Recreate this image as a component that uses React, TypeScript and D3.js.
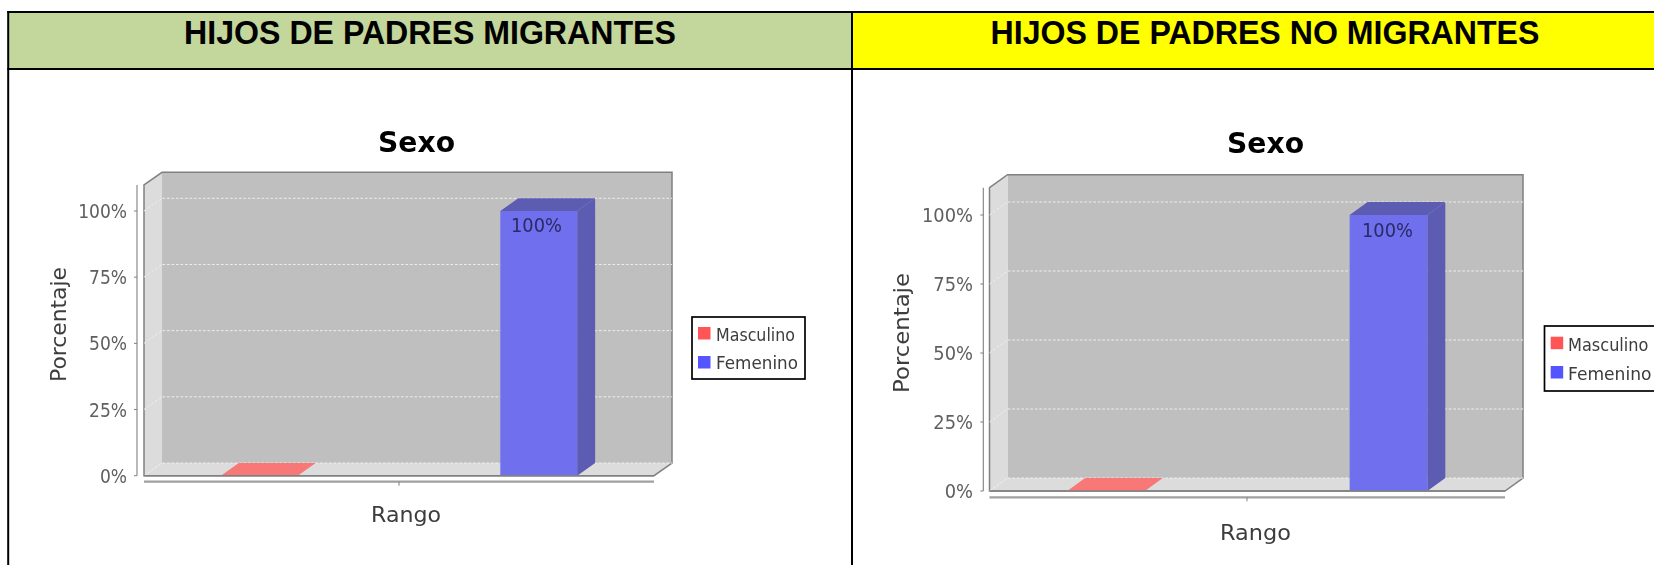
import React from "react";
import * as d3 from "d3";

const categories = ["Masculino", "Femenino"];
const seriesValues = [0, 100];
const barLabels = ["", "100%"];
const tickValues = [0, 25, 50, 75, 100];
const seriesFront = ["#f87878", "#7070ee"];
const seriesSide = ["#c06060", "#5b5bb3"];
const legendSwatches = ["#ff5555", "#5555ff"];
const headers = ["HIJOS DE PADRES MIGRANTES", "HIJOS DE PADRES NO MIGRANTES"];
const headerColors = ["#c3d69b", "#ffff00"];

type Panel = {
  x0: number; x1: number; y0: number; y100: number; yTop: number; dx: number; dy: number;
  axisX: number; axisY: number; tickLabelX: number; xTick: number;
  title: [number, number, number]; rango: [number, number, number]; porc: [number, number, number];
  legend: [number, number, number, number]; swatchX: number; swatchY: number[]; legendTextX: number; legendBase: number[]; legendW: number[];
  lblCx: number; lblBase: number; lblW: number; tickSx: number;
};

const panels: Panel[] = [
  {
    x0: 144, x1: 654, y0: 475.7, y100: 211, yTop: 185, dx: 18, dy: 12.7, axisX: 137, axisY: 481.7, tickLabelX: 127, xTick: 399,
    title: [416.5, 151.7, 77], rango: [406, 522, 70], porc: [66, 324.5, 115],
    legend: [692, 317, 113, 62], swatchX: 698, swatchY: [327, 356], legendTextX: 716, legendBase: [340.5, 368.5], legendW: [79, 82],
    lblCx: 536.5, lblBase: 232, lblW: 51, tickSx: 0.9,
  },
  {
    x0: 989.5, x1: 1505, y0: 491, y100: 215, yTop: 187.7, dx: 18, dy: 13, axisX: 983.3, axisY: 497.3, tickLabelX: 973, xTick: 1247,
    title: [1265.5, 152.7, 77], rango: [1255.5, 540, 71], porc: [909, 333, 120],
    legend: [1544.5, 326, 130, 65], swatchX: 1550.7, swatchY: [336.7, 366], legendTextX: 1568, legendBase: [350.7, 379.7], legendW: [80.5, 83.5],
    lblCx: 1387.5, lblBase: 237, lblW: 51, tickSx: 0.94,
  },
];

const pct = (v: number) => `${v}%`;
const SANS = "'DejaVu Sans', sans-serif";
const ARIAL = "'Liberation Sans', Arial, sans-serif";

const ctx = document.createElement("canvas").getContext("2d")!;
function natural(text: string, size: number, family: string, weight: number) {
  ctx.font = `${weight} ${size}px ${family}`;
  return ctx.measureText(text).width;
}

// Text squeezed or stretched horizontally to a measured width, as the resampled reference is.
function Fit({ text, x, y, w, size, family = SANS, weight = 400, fill, anchor = "start", rotate = false }: {
  text: string; x: number; y: number; w: number; size: number; family?: string; weight?: number; fill: string;
  anchor?: "start" | "middle" | "end"; rotate?: boolean;
}) {
  const sx = w / natural(text, size, family, weight);
  const tf = rotate ? `translate(${x},${y}) rotate(-90) scale(${sx},1)` : `translate(${x},${y}) scale(${sx},1)`;
  return <text transform={tf} textAnchor={anchor} fontFamily={family} fontWeight={weight} fontSize={size} fill={fill}>{text}</text>;
}

function Chart({ p }: { p: Panel }) {
  const y = d3.scaleLinear().domain([0, 100]).range([p.y0, p.y100]);
  const x = d3.scaleBand<string>().domain(categories).range([p.x0, p.x1]).paddingInner(0.725).paddingOuter(0.275);
  const { dx, dy } = p;
  const line = d3.line();
  const poly = (pts: [number, number][]) => line(pts) + "Z";
  const bw = x.bandwidth();
  const tickNat = (t: number) => natural(pct(t), 19, SANS, 400);
  return (
    <g filter="url(#soft)">
      <Fit text="Sexo" x={p.title[0]} y={p.title[1]} w={p.title[2]} size={29} weight={700} fill="#000" anchor="middle" />

      <path d={poly([[p.x0 + dx, p.yTop - dy], [p.x1 + dx, p.yTop - dy], [p.x1 + dx, p.y0 - dy], [p.x0 + dx, p.y0 - dy]])} fill="#bfbfbf" />
      <path d={poly([[p.x0, p.yTop], [p.x0 + dx, p.yTop - dy], [p.x0 + dx, p.y0 - dy], [p.x0, p.y0]])} fill="#dcdcdc" />
      <path d={poly([[p.x0, p.y0], [p.x0 + dx, p.y0 - dy], [p.x1 + dx, p.y0 - dy], [p.x1, p.y0]])} fill="#dcdcdc" />
      <path d={`M${p.x0},${p.y0}V${p.yTop}L${p.x0 + dx},${p.yTop - dy}H${p.x1 + dx}V${p.y0 - dy}L${p.x1},${p.y0}Z`} fill="none" stroke="#808080" strokeWidth={1.5} />

      {tickValues.map((t) => (
        <path key={t} d={`M${p.x0},${y(t)}L${p.x0 + dx},${y(t) - dy}H${p.x1 + dx}`} fill="none" stroke="#eeeeee" strokeWidth={1} strokeDasharray="2.7 1.8" />
      ))}

      {categories.map((c, i) => {
        const l = x(c)!;
        const top = y(seriesValues[i]);
        return (
          <g key={c}>
            <path d={poly([[l + bw, top], [l + bw + dx, top - dy], [l + bw + dx, p.y0 - dy], [l + bw, p.y0]])} fill={seriesSide[i]} />
            <path d={poly([[l, top], [l + dx, top - dy], [l + bw + dx, top - dy], [l + bw, top]])} fill={i === 0 ? seriesFront[i] : seriesSide[i]} />
            <rect x={l} y={top} width={bw} height={p.y0 - top} fill={seriesFront[i]} />
            {barLabels[i] && (
              <Fit text={barLabels[i]} x={p.lblCx} y={p.lblBase} w={p.lblW} size={19} fill="#2a2a66" anchor="middle" />
            )}
          </g>
        );
      })}
      <line x1={p.x0} x2={p.x1} y1={p.y0} y2={p.y0} stroke="#808080" strokeWidth={1.6} />

      <line x1={p.axisX} x2={p.axisX} y1={p.yTop} y2={p.y0} stroke="#808080" strokeWidth={1.1} />
      {tickValues.map((t) => (
        <g key={t}>
          <line x1={p.axisX - 3} x2={p.axisX} y1={y(t)} y2={y(t)} stroke="#808080" strokeWidth={1} />
          <Fit text={pct(t)} x={p.tickLabelX} y={y(t) + 7} w={tickNat(t) * p.tickSx} size={19} fill="#5f5f5f" anchor="end" />
        </g>
      ))}

      <line x1={p.x0} x2={p.x1} y1={p.axisY} y2={p.axisY} stroke="#a0a0a0" strokeWidth={2.2} />
      <line x1={p.xTick} x2={p.xTick} y1={p.axisY} y2={p.axisY + 4} stroke="#808080" strokeWidth={1} />
      <Fit text="Rango" x={p.rango[0]} y={p.rango[1]} w={p.rango[2]} size={21} fill="#3c3c3c" anchor="middle" />
      <Fit text="Porcentaje" x={p.porc[0]} y={p.porc[1]} w={p.porc[2]} size={22} fill="#3c3c3c" anchor="middle" rotate />

      <rect x={p.legend[0]} y={p.legend[1]} width={p.legend[2]} height={p.legend[3]} fill="#fff" stroke="#000" strokeWidth={1.7} />
      {categories.map((c, i) => (
        <g key={c}>
          <rect x={p.swatchX} y={p.swatchY[i]} width={12.5} height={12.5} fill={legendSwatches[i]} />
          <Fit text={c} x={p.legendTextX} y={p.legendBase[i]} w={p.legendW[i]} size={18.5} fill="#3c3c3c" />
        </g>
      ))}
    </g>
  );
}

export default function App() {
  return (
    <svg width={1654} height={565} style={{ position: "absolute", left: 0, top: 0, background: "#fff" }}>
      <defs>
        <filter id="soft" x="0" y="0" width="1654" height="565" filterUnits="userSpaceOnUse">
          <feGaussianBlur stdDeviation="0.35" />
        </filter>
      </defs>
      <rect x={8} y={12} width={844} height={56.5} fill={headerColors[0]} />
      <rect x={852} y={12} width={802} height={56.5} fill={headerColors[1]} />
      {panels.map((p, i) => <Chart key={i} p={p} />)}
      <Fit text={headers[0]} x={430} y={43.5} w={492} size={33} family={ARIAL} weight={700} fill="#000" anchor="middle" />
      <Fit text={headers[1]} x={1265} y={43.5} w={549} size={33} family={ARIAL} weight={700} fill="#000" anchor="middle" />
      <path d="M7.3,12H1654M7.3,69H1654" stroke="#000" strokeWidth={2} fill="none" />
      <path d="M8.2,11V565M852,11V565" stroke="#000" strokeWidth={2} fill="none" />
    </svg>
  );
}
